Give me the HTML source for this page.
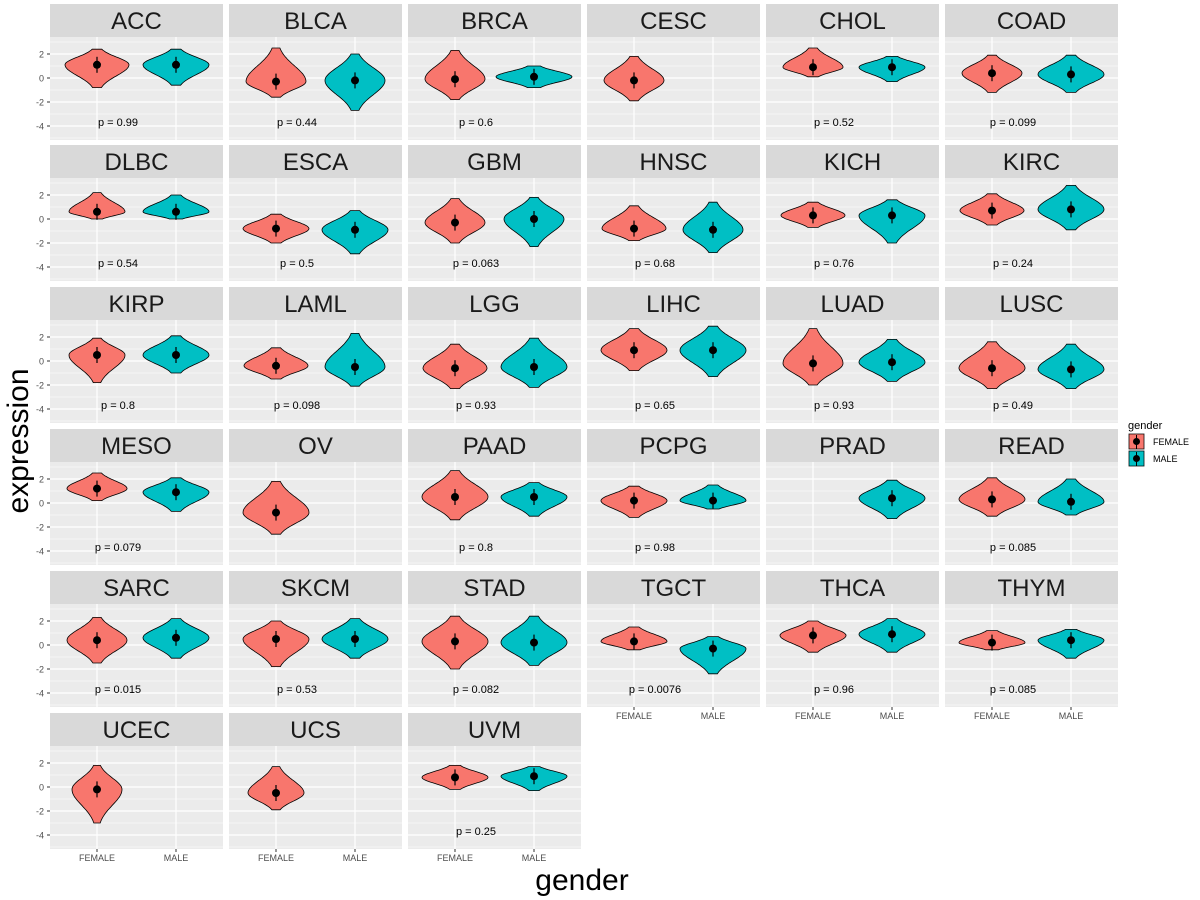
<!DOCTYPE html>
<html><head><meta charset="utf-8"><style>
html,body{margin:0;padding:0;background:#fff}
svg{display:block;font-family:"Liberation Sans",sans-serif}
</style></head><body>
<svg id="s" width="1200" height="900" xmlns="http://www.w3.org/2000/svg"></svg>
<script>
const D=[
["ACC",[2.4,-0.8,1.1,32],[2.4,-0.6,1.1,33],"p = 0.99"],
["BLCA",[2.5,-1.6,-0.3,30],[2.0,-2.7,-0.2,30],"p = 0.44"],
["BRCA",[2.3,-1.8,-0.1,30],[1.0,-0.8,0.1,38],"p = 0.6"],
["CESC",[1.8,-1.9,-0.2,30],null,""],
["CHOL",[2.5,0.1,0.9,30],[1.8,-0.3,0.9,33],"p = 0.52"],
["COAD",[1.9,-1.2,0.4,30],[1.9,-1.2,0.3,33],"p = 0.099"],
["DLBC",[2.2,0,0.6,28],[2,0,0.6,33],"p = 0.54"],
["ESCA",[0.4,-2.0,-0.8,33],[0.7,-2.9,-0.9,33],"p = 0.5"],
["GBM",[1.7,-2.0,-0.3,30],[1.8,-2.3,0,30],"p = 0.063"],
["HNSC",[1.1,-1.8,-0.8,32],[1.4,-2.8,-0.9,30],"p = 0.68"],
["KICH",[1.4,-0.7,0.3,32],[1.6,-2.0,0.3,33],"p = 0.76"],
["KIRC",[2.1,-0.5,0.7,32],[2.8,-0.9,0.8,33],"p = 0.24"],
["KIRP",[1.9,-1.8,0.5,28],[2.1,-1.0,0.5,33],"p = 0.8"],
["LAML",[1.1,-1.5,-0.4,32],[2.3,-2.1,-0.5,30],"p = 0.098"],
["LGG",[1.4,-2.3,-0.6,32],[1.9,-2.2,-0.5,33],"p = 0.93"],
["LIHC",[2.7,-0.8,0.9,33],[2.9,-1.3,0.9,33],"p = 0.65"],
["LUAD",[2.7,-2.0,-0.2,30],[1.8,-1.7,-0.1,33],"p = 0.93"],
["LUSC",[1.6,-2.3,-0.6,33],[1.4,-2.3,-0.7,33],"p = 0.49"],
["MESO",[2.5,0.2,1.2,30],[2.1,-0.7,0.9,33],"p = 0.079"],
["OV",[1.8,-2.6,-0.8,33],null,""],
["PAAD",[2.7,-1.4,0.5,33],[1.7,-1.1,0.5,33],"p = 0.8"],
["PCPG",[1.4,-1.2,0.2,33],[1.5,-0.5,0.2,33],"p = 0.98"],
["PRAD",null,[1.9,-1.3,0.4,33],""],
["READ",[2.1,-1.1,0.3,33],[2.0,-1.0,0.1,33],"p = 0.085"],
["SARC",[2.3,-1.5,0.4,30],[2.2,-1.1,0.6,33],"p = 0.015"],
["SKCM",[2.0,-1.8,0.5,33],[2.2,-1.1,0.5,33],"p = 0.53"],
["STAD",[2.4,-2.0,0.3,33],[2.4,-1.7,0.2,33],"p = 0.082"],
["TGCT",[1.5,-0.4,0.3,33],[0.7,-2.4,-0.3,33],"p = 0.0076"],
["THCA",[2.0,-0.6,0.8,33],[2.2,-0.6,0.9,33],"p = 0.96"],
["THYM",[1.2,-0.4,0.2,33],[1.3,-1.1,0.4,33],"p = 0.085"],
["UCEC",[1.8,-3.0,-0.2,25],null,""],
["UCS",[1.7,-1.9,-0.5,28],null,""],
["UVM",[1.8,-0.2,0.8,33],[1.7,-0.3,0.9,33],"p = 0.25"]];
const Z=[78,219,361,503,645,787];
let h="";
function violin(cx,z,v,col){
 const [mx,mn,m,hw]=v;
 let L=[],R=[];const n=40;
 for(let i=0;i<=n;i++){const y=mx-(mx-mn)*i/n;const s=(y>m?(mx-m):(m-mn))*0.45+0.05;
  const w=hw*(0.03+0.97*Math.exp(-0.5*((y-m)/s)**2));
  const py=z-y*12;L.push([cx-w,py]);R.push([cx+w,py]);}
 const pts=R.concat(L.reverse()).map(p=>p[0].toFixed(1)+","+p[1].toFixed(1)).join(" ");
 h+=`<polygon points="${pts}" fill="${col}" stroke="#000" stroke-width="0.8"/>`;
 const py=z-m*12;
 h+=`<line x1="${cx}" x2="${cx}" y1="${py-8}" y2="${py+8}" stroke="#000" stroke-width="1.2"/><circle cx="${cx}" cy="${py}" r="4" fill="#000"/>`;
}
D.forEach((d,i)=>{
 const r=Math.floor(i/6),c=i%6,x0=50+c*179,z=Z[r],top=z-41,bot=z+62,W=173;
 h+=`<rect x="${x0}" y="${top-33}" width="${W}" height="33" fill="#D9D9D9"/>`;
 h+=`<text x="${x0+W/2}" y="${top-8}" font-size="24" text-anchor="middle" fill="#1a1a1a">${d[0]}</text>`;
 h+=`<rect x="${x0}" y="${top}" width="${W}" height="${bot-top}" fill="#EBEBEB"/>`;
 [-5,-3,-1,1,3].forEach(v=>h+=`<line x1="${x0}" x2="${x0+W}" y1="${z-v*12}" y2="${z-v*12}" stroke="#fff" stroke-width="0.6"/>`);
 [-4,-2,0,2].forEach(v=>h+=`<line x1="${x0}" x2="${x0+W}" y1="${z-v*12}" y2="${z-v*12}" stroke="#fff" stroke-width="1.2"/>`);
 [47,126].forEach(dx=>h+=`<line x1="${x0+dx}" x2="${x0+dx}" y1="${top}" y2="${bot}" stroke="#fff" stroke-width="1.2"/>`);
 if(d[1])violin(x0+47,z,d[1],"#F8766D");
 if(d[2])violin(x0+126,z,d[2],"#00BFC4");
 if(d[3])h+=`<text x="${x0+68}" y="${z+48}" font-size="11" text-anchor="middle" fill="#000">${d[3]}</text>`;
 if(c==0)[-4,-2,0,2].forEach(v=>{h+=`<text x="${x0-6}" y="${z-v*12+3.5}" font-size="9" text-anchor="end" fill="#4D4D4D">${v}</text><line x1="${x0-3}" x2="${x0}" y1="${z-v*12}" y2="${z-v*12}" stroke="#333"/>`;});
 if((r==4&&c>=3)||r==5){[[47,"FEMALE"],[126,"MALE"]].forEach(([dx,t])=>h+=`<line x1="${x0+dx}" x2="${x0+dx}" y1="${bot}" y2="${bot+3}" stroke="#333"/><text x="${x0+dx}" y="${bot+12}" font-size="9" text-anchor="middle" fill="#4D4D4D">${t}</text>`);}
});
h+=`<text x="582" y="890" font-size="30" text-anchor="middle" fill="#000">gender</text>`;
h+=`<text transform="translate(28,441) rotate(-90)" font-size="30" text-anchor="middle" fill="#000">expression</text>`;
h+=`<text x="1128" y="429" font-size="11" fill="#000">gender</text>`;
[[441,"#F8766D","FEMALE"],[458,"#00BFC4","MALE"]].forEach(([y,c,t])=>{h+=`<rect x="1128" y="${y-8}" width="17" height="17" fill="#F2F2F2"/><rect x="1129" y="${y-7}" width="15" height="15" fill="${c}" stroke="#000" stroke-width="0.7"/><line x1="1136.5" x2="1136.5" y1="${y-6}" y2="${y+8}" stroke="#000"/><circle cx="1136.5" cy="${y+0.5}" r="3.5" fill="#000"/><text x="1153" y="${y+4}" font-size="9" fill="#000">${t}</text>`;});
document.getElementById("s").innerHTML=h;
</script>
</body></html>
